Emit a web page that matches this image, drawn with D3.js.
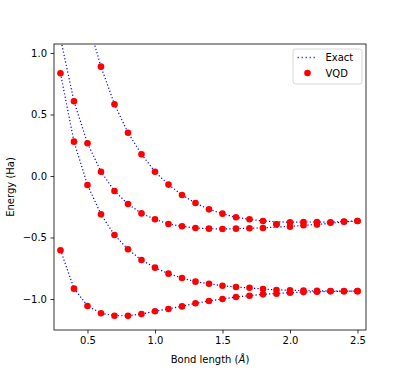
<!DOCTYPE html>
<html>
<head>
<meta charset="utf-8">
<script src="https://cdn.jsdelivr.net/npm/d3@7"></script>
<style>
  body { margin: 0; background: white; }
  text { font-family: "DejaVu Sans", sans-serif; }
</style>
</head>
<body>
<svg id="chart"></svg>
<script>
var width = 407, height = 372

// bond lengths (Angstrom)
var bond = [0.3, 0.4, 0.5, 0.6, 0.7, 0.8, 0.9, 1.0, 1.1, 1.2, 1.3, 1.4,
            1.5, 1.6, 1.7, 1.8, 1.9, 2.0, 2.1, 2.2, 2.3, 2.4, 2.5]

// exact energies (Ha), one array per state
var exact0 = [-0.602, -0.914, -1.055, -1.116, -1.136, -1.136, -1.122, -1.100, -1.080, -1.059,
              -1.035, -1.016, -0.999, -0.984, -0.973, -0.962, -0.955, -0.949, -0.944, -0.941,
              -0.939, -0.937, -0.936]
var exact1 = [0.835, 0.279, -0.073, -0.312, -0.480, -0.596, -0.683, -0.745, -0.794, -0.829,
              -0.859, -0.876, -0.892, -0.902, -0.911, -0.919, -0.925, -0.929, -0.932, -0.934,
              -0.935, -0.936, -0.936]
var exact2 = [1.120, 0.607, 0.266, 0.035, -0.122, -0.228, -0.304, -0.352, -0.390, -0.409,
              -0.423, -0.428, -0.431, -0.428, -0.425, -0.421, -0.416, -0.410, -0.401, -0.394,
              -0.384, -0.374, -0.366]
var exact3 = [2.300, 1.750, 1.270, 0.889, 0.583, 0.352, 0.176, 0.035, -0.070, -0.154,
              -0.220, -0.271, -0.306, -0.336, -0.352, -0.366, -0.372, -0.376, -0.374, -0.374,
              -0.375, -0.370, -0.366]

// VQD energies (Ha)
var vqd0 = [-0.604, -0.916, -1.057, -1.116, -1.136, -1.137, -1.122, -1.100, -1.081, -1.060,
            -1.035, -1.016, -1.000, -0.984, -0.973, -0.962, -0.957, -0.949, -0.944, -0.941,
            -0.938, -0.937, -0.936]
var vqd1 = [0.835, 0.279, -0.073, -0.312, -0.480, -0.596, -0.683, -0.745, -0.794, -0.829,
            -0.859, -0.876, -0.892, -0.902, -0.908, -0.919, -0.927, -0.929, -0.932, -0.934,
            -0.935, -0.936, -0.936]
var vqd2 = [1.120, 0.607, 0.266, 0.035, -0.122, -0.228, -0.304, -0.352, -0.390, -0.409,
            -0.423, -0.428, -0.431, -0.428, -0.425, -0.423, -0.393, -0.412, -0.401, -0.395,
            -0.380, -0.372, -0.366]
var vqd3 = [2.300, 1.750, 1.270, 0.889, 0.583, 0.352, 0.176, 0.035, -0.070, -0.154,
            -0.220, -0.271, -0.306, -0.336, -0.352, -0.366, -0.393, -0.376, -0.374, -0.374,
            -0.376, -0.370, -0.366]

var exactStates = [exact0, exact1, exact2, exact3]
var vqdStates = [vqd0, vqd1, vqd2, vqd3]

var xTicks = [0.5, 1.0, 1.5, 2.0, 2.5]
var yTicks = [1.0, 0.5, 0.0, -0.5, -1.0]

var margin = {top: 44, right: 41, bottom: 42, left: 54}
var w = width - margin.left - margin.right,
    h = height - margin.top - margin.bottom

var svg = d3.select("#chart")
    .attr("width", width)
    .attr("height", height)

var x = d3.scaleLinear().domain([0.252, 2.563]).range([0, w])
var y = d3.scaleLinear().domain([-1.252, 1.073]).range([h, 0])

var g = svg.append("g")
    .attr("transform", "translate(" + margin.left + "," + margin.top + ")")

g.append("clipPath").attr("id", "clip")
  .append("rect").attr("width", w).attr("height", h)

var plot = g.append("g").attr("clip-path", "url(#clip)")

var line = d3.line()
    .x(function(d, i) { return x(bond[i]) })
    .y(function(d) { return y(d) })

exactStates.forEach(function(s) {
    plot.append("path")
        .datum(s)
        .attr("d", line)
        .attr("fill", "none")
        .attr("stroke", "#0000ff")
        .attr("stroke-width", 1.2)
        .attr("stroke-dasharray", "1.2,2.2")
})

vqdStates.forEach(function(s) {
    plot.selectAll(null)
        .data(s)
        .enter()
        .append("circle")
            .attr("cx", function(d, i) { return x(bond[i]) })
            .attr("cy", function(d) { return y(d) })
            .attr("r", 3.3)
            .attr("fill", "#ff0000")
})

// axes
var xAxis = g.append("g")
    .attr("transform", "translate(0," + h + ")")
    .call(d3.axisBottom(x).tickValues(xTicks).tickFormat(d3.format(".1f")).tickSizeOuter(0).tickSize(3.5).tickPadding(3.5))
var yAxis = g.append("g")
    .call(d3.axisLeft(y).tickValues(yTicks).tickFormat(function(d) { return d3.format(".1f")(d).replace("-", "\u2212") }).tickSizeOuter(0).tickSize(3.5).tickPadding(3.5))

;[xAxis, yAxis].forEach(function(a) {
    a.select(".domain").remove()
    a.selectAll("line").attr("stroke", "black").attr("stroke-width", 0.8)
    a.selectAll("text").attr("font-size", 10).attr("fill", "black")
        .style("font-family", "DejaVu Sans, sans-serif")
})

// spines
g.append("rect")
    .attr("width", w).attr("height", h)
    .attr("fill", "none")
    .attr("stroke", "black")
    .attr("stroke-width", 0.8)

// axis labels
var xl = svg.append("text")
    .attr("x", margin.left + w / 2)
    .attr("y", 363)
    .attr("text-anchor", "middle")
    .attr("font-size", 10)
xl.append("tspan").text("Bond length (")
xl.append("tspan").attr("font-style", "italic").text("\u00c5")
xl.append("tspan").text(")")

svg.append("text")
    .attr("transform", "translate(14," + (margin.top + h / 2) + ") rotate(-90)")
    .attr("text-anchor", "middle")
    .attr("font-size", 10)
    .text("Energy (Ha)")

// legend
var lg = g.append("g").attr("transform", "translate(" + (w - 73) + ",5)")
lg.append("rect")
    .attr("width", 69).attr("height", 35)
    .attr("rx", 2.5)
    .attr("fill", "white").attr("fill-opacity", 0.8)
    .attr("stroke", "#cccccc").attr("stroke-width", 0.8)
lg.append("line")
    .attr("x1", 4.5).attr("x2", 24.5).attr("y1", 8.5).attr("y2", 8.5)
    .attr("stroke", "#0000ff").attr("stroke-width", 1.5)
    .attr("stroke-opacity", 0.7)
    .attr("stroke-dasharray", "1.5,2.5")
lg.append("circle")
    .attr("cx", 14.5).attr("cy", 24).attr("r", 3.3).attr("fill", "#ff0000")
lg.append("text").attr("x", 32.5).attr("y", 12).attr("font-size", 10).text("Exact")
lg.append("text").attr("x", 32.5).attr("y", 27.5).attr("font-size", 10).text("VQD")
</script>
</body>
</html>
